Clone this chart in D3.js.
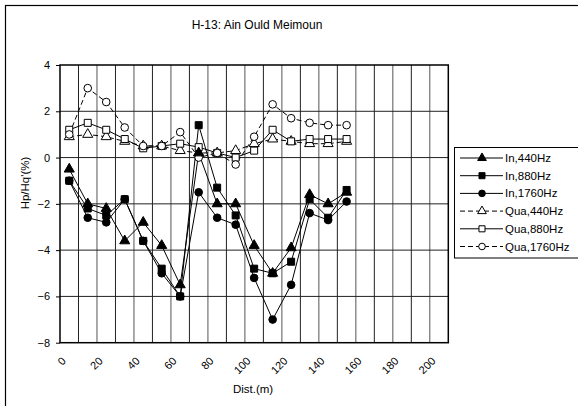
<!DOCTYPE html>
<html><head><meta charset="utf-8">
<script src="https://cdn.jsdelivr.net/npm/d3@7"></script>
<style>body{margin:0;background:#fff}svg{display:block;font-family:"Liberation Sans",Arial,sans-serif}</style>
</head><body>
<script>
const dist = [5,15,25,35,45,55,65,75,85,95,105,115,125,135,145,155];
const in440  = [-0.5,-2.0,-2.2,-3.6,-2.8,-3.8,-5.5,0.2,-2.0,-2.0,-3.8,-5.0,-3.9,-1.6,-2.0,-1.5];
const in880  = [-1.0,-2.2,-2.5,-1.8,-3.6,-4.8,-6.0,1.4,-1.3,-2.5,-4.8,-5.0,-4.5,-1.8,-2.6,-1.4];
const in1760 = [-1.0,-2.6,-2.8,-1.8,-3.6,-5.0,-6.0,-1.5,-2.6,-2.9,-5.2,-7.0,-5.5,-2.4,-2.7,-1.9];
const qua440 = [0.9,1.0,0.9,0.7,0.5,0.5,0.3,0.2,0.2,0.3,0.6,0.8,0.7,0.6,0.6,0.7];
const qua880 = [1.2,1.5,1.2,0.8,0.4,0.5,0.6,0.45,0.2,0.0,0.3,1.2,0.7,0.8,0.8,0.8];
const qua1760= [1.0,3.0,2.4,1.3,0.5,0.5,1.1,0.0,0.2,-0.3,0.9,2.3,1.7,1.5,1.4,1.4];
const xTicks = [0,20,40,60,80,100,120,140,160,180,200];
const yTicks = [-8,-6,-4,-2,0,2,4];
const seriesNames = ["In,440Hz","In,880Hz","In,1760Hz","Qua,440Hz","Qua,880Hz","Qua,1760Hz"];

const series = [
  {name:seriesNames[0], vals:in440, sym:d3.symbolTriangle, fill:"#000", dash:null},
  {name:seriesNames[1], vals:in880, sym:d3.symbolSquare, fill:"#000", dash:null},
  {name:seriesNames[2], vals:in1760, sym:d3.symbolCircle, fill:"#000", dash:null},
  {name:seriesNames[3], vals:qua440, sym:d3.symbolTriangle, fill:"#fff", dash:"5,3"},
  {name:seriesNames[4], vals:qua880, sym:d3.symbolSquare, fill:"#fff", dash:null},
  {name:seriesNames[5], vals:qua1760, sym:d3.symbolCircle, fill:"#fff", dash:"5,3"}
];

const W=578,H=406;
const svg=d3.select("body").append("svg").attr("width",W).attr("height",H);
svg.append("rect").attr("x",5.5).attr("y",5.5).attr("width",W).attr("height",H).attr("fill","none").attr("stroke","#000").attr("stroke-width",1.2);

const x=d3.scaleLinear().domain([0,210]).range([60,448.3]);
const y=d3.scaleLinear().domain([-8,4]).range([342.7,65]);

// grid
const vg=d3.range(10,210,10);
svg.append("g").selectAll("line").data(vg).join("line")
  .attr("x1",d=>x(d)).attr("x2",d=>x(d)).attr("y1",y(4)).attr("y2",y(-8))
  .attr("stroke",(d)=> (d/10)%2===1 ? "#222":"#555").attr("stroke-width",1);
svg.append("g").selectAll("line").data(yTicks.filter(v=>v>-8&&v<4)).join("line")
  .attr("x1",x(0)).attr("x2",x(210)).attr("y1",d=>y(d)).attr("y2",d=>y(d))
  .attr("stroke","#222").attr("stroke-width",1);
svg.append("rect").attr("x",x(0)).attr("y",y(4)).attr("width",x(210)-x(0)).attr("height",y(-8)-y(4))
  .attr("fill","none").attr("stroke","#000").attr("stroke-width",1.5);

// y axis
const ya=svg.append("g").attr("transform",`translate(${x(0)},0)`)
  .call(d3.axisLeft(y).tickValues(yTicks).tickSize(4).tickFormat(d3.format("d")));
ya.select(".domain").remove();
ya.selectAll("text").attr("font-size",11).attr("font-family","Liberation Sans, Arial").attr("dx",-3);
ya.selectAll("line").attr("stroke","#000");

// x axis labels
const xa=svg.append("g").attr("transform",`translate(0,${y(-8)})`)
  .call(d3.axisBottom(x).tickValues(xTicks).tickSize(0).tickFormat(d3.format("d")));
xa.select(".domain").remove();
xa.selectAll("text").attr("font-size",11).attr("font-family","Liberation Sans, Arial")
  .attr("text-anchor","end").attr("y",0).attr("dy",0)
  .attr("transform","translate(6,19) rotate(-45)");

// titles
svg.append("text").attr("x",257).attr("y",29).attr("text-anchor","middle").attr("font-size",12).text("H-13: Ain Ould Meimoun");
svg.append("text").attr("x",253).attr("y",393).attr("text-anchor","middle").attr("font-size",11.5).text("Dist.(m)");
svg.append("text").attr("transform","translate(29,183) rotate(-90)").attr("text-anchor","middle").attr("font-size",11.5).text("Hp/Hq'(%)");

const line=d3.line().x((d,i)=>x(dist[i])).y(d=>y(d));
function symSize(s){return s===d3.symbolTriangle?44:(s===d3.symbolSquare?49:46);}
const order=[3,4,5,0,1,2];
order.forEach(k=>{
  const s=series[k];
  svg.append("path").attr("d",line(s.vals)).attr("fill","none").attr("stroke","#000").attr("stroke-width",1)
    .attr("stroke-dasharray",s.dash);
});
order.forEach(k=>{
  const s=series[k];
  svg.append("g").selectAll("path").data(s.vals).join("path")
    .attr("transform",(d,i)=>`translate(${x(dist[i])},${y(d)})`)
    .attr("d",d3.symbol().type(s.sym).size(symSize(s.sym)))
    .attr("fill",s.fill).attr("stroke","#000").attr("stroke-width",1);
});

// legend
const lg=svg.append("g");
lg.append("rect").attr("x",454.5).attr("y",147.5).attr("width",130).attr("height",110.5).attr("fill","#fff").attr("stroke","#000");
series.forEach((s,i)=>{
  const yy=158+i*17.7;
  lg.append("line").attr("x1",460).attr("x2",503).attr("y1",yy).attr("y2",yy).attr("stroke","#000").attr("stroke-width",1).attr("stroke-dasharray",s.dash);
  lg.append("path").attr("transform",`translate(482,${yy})`).attr("d",d3.symbol().type(s.sym).size(symSize(s.sym)*0.75))
    .attr("fill",s.fill).attr("stroke","#000");
  lg.append("text").attr("x",505).attr("y",yy+4).attr("font-size",11.5).text(s.name);
});
</script>
</body></html>
